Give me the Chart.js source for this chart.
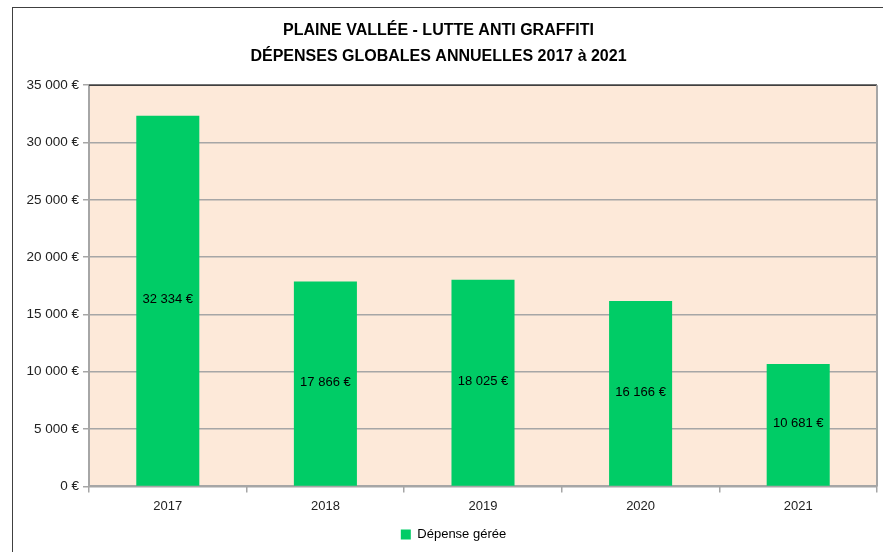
<!DOCTYPE html>
<html>
<head>
<meta charset="utf-8">
<script src="https://cdn.jsdelivr.net/npm/chart.js@4/dist/chart.umd.min.js"></script>
<style>
  html, body { margin: 0; padding: 0; background: #fff; }
  #wrap { position: relative; width: 883px; height: 552px; overflow: hidden; }
  #cadre { position: absolute; left: 12px; top: 7px; width: 900px; height: 600px;
           border-left: 1.5px solid #404040; border-top: 1.5px solid #404040; }
  canvas { position: absolute; left: 0; top: 0; }
</style>
</head>
<body>
<div id="wrap">
  <div id="cadre"></div>
  <canvas id="myChart" width="883" height="552"></canvas>
</div>
<script>
// Données
const annees = ['2017', '2018', '2019', '2020', '2021'];
const depenses = [32334, 17866, 18025, 16166, 10681];
const titre = ['PLAINE VALLÉE - LUTTE ANTI GRAFFITI', 'DÉPENSES GLOBALES ANNUELLES 2017 à 2021'];
const nomSerie = 'Dépense gérée';

const police = "'Liberation Sans', 'Open Sans', sans-serif";

// format "32 334 €"
function euros(v) {
    return String(Math.round(v)).replace(/\B(?=(\d{3})+(?!\d))/g, ' ') + ' €';
}

// fond de la zone de tracé + bordures
const fondZone = {
    id: 'fondZone',
    afterLayout(chart) {
        // légende un peu décalée vers la droite comme sur l'original
        chart.legend.left += 15;
        chart.legend.right += 15;
    },
    beforeDraw(chart) {
        const { ctx, chartArea: a } = chart;
        ctx.save();
        ctx.fillStyle = '#FDE9D9';
        ctx.fillRect(a.left, a.top, a.right - a.left, a.bottom - a.top);
        ctx.restore();
    },
    afterDraw(chart) {
        const { ctx, chartArea: a } = chart;
        ctx.save();
        ctx.strokeStyle = '#404040';
        ctx.lineWidth = 1.5;
        ctx.beginPath();
        ctx.moveTo(a.left, a.top);
        ctx.lineTo(a.right, a.top);
        ctx.stroke();
        ctx.strokeStyle = '#a6a6a6';
        ctx.lineWidth = 2;
        ctx.beginPath();
        ctx.moveTo(a.right, a.top);
        ctx.lineTo(a.right, a.bottom);
        ctx.stroke();
        ctx.restore();
    }
};

// étiquettes au milieu des barres
const etiquettes = {
    id: 'etiquettes',
    afterDatasetsDraw(chart) {
        const ctx = chart.ctx;
        const meta = chart.getDatasetMeta(0);
        ctx.save();
        ctx.font = '13px ' + police;
        ctx.fillStyle = '#000';
        ctx.textAlign = 'center';
        ctx.textBaseline = 'middle';
        meta.data.forEach((bar, i) => {
            ctx.fillText(euros(depenses[i]), bar.x, (bar.y + bar.base) / 2 - 1);
        });
        ctx.restore();
    }
};

new Chart(document.getElementById('myChart').getContext('2d'), {
    type: 'bar',
    data: {
        labels: annees,
        datasets: [{
            label: nomSerie,
            data: depenses,
            backgroundColor: '#00CC66',
            borderWidth: 0,
            categoryPercentage: 1,
            barPercentage: 0.4
        }]
    },
    options: {
        responsive: false,
        animation: false,
        layout: { padding: { left: 0, right: 6, top: 0, bottom: 1 } },
        plugins: {
            title: {
                display: true,
                text: titre,
                color: '#000',
                font: { family: police, size: 16, weight: 'bold', lineHeight: 1.6 },
                padding: { top: 18, bottom: 16 }
            },
            legend: {
                position: 'bottom',
                labels: {
                    color: '#000',
                    font: { family: police, size: 13 },
                    boxWidth: 10,
                    boxHeight: 10,
                    padding: 8
                }
            },
            tooltip: { enabled: false }
        },
        scales: {
            x: {
                offset: true,
                grid: {
                    offset: true,
                    drawOnChartArea: false,
                    color: '#a6a6a6',
                    tickLength: 6,
                    lineWidth: 1.5
                },
                border: { color: '#a6a6a6', width: 2 },
                ticks: {
                    color: '#222',
                    font: { family: police, size: 13 },
                    padding: 6
                }
            },
            y: {
                min: 0,
                max: 35000,
                afterFit(scale) { scale.width = 89; },
                grid: {
                    color: '#a6a6a6',
                    lineWidth: 1.5,
                    tickLength: 6
                },
                border: { color: '#a6a6a6', width: 2 },
                ticks: {
                    stepSize: 5000,
                    color: '#222',
                    font: { family: police, size: 13.5 },
                    padding: 4,
                    callback: v => euros(v)
                }
            }
        }
    },
    plugins: [fondZone, etiquettes]
});
</script>
</body>
</html>
